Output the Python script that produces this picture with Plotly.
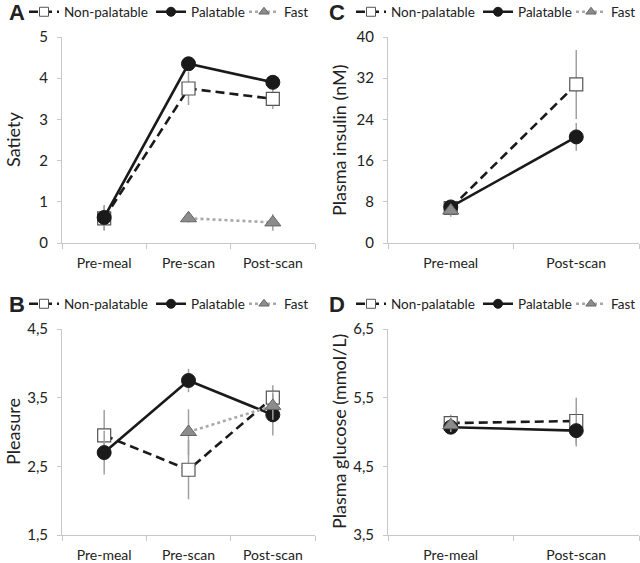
import plotly.graph_objects as go
from plotly.subplots import make_subplots

# ---------------- data ----------------
cats3 = ["Pre-meal", "Pre-scan", "Post-scan"]
cats2 = ["Pre-meal", "Post-scan"]

satiety_np = [0.6, 3.75, 3.5]
satiety_np_err = [0.3, 0.4, 0.25]
satiety_pal = [0.62, 4.35, 3.9]
satiety_pal_err = [0.3, 0.15, 0.15]
satiety_fast = [None, 0.6, 0.5]
satiety_fast_err = [0, 0.1, 0.2]

pleasure_np = [2.95, 2.45, 3.5]
pleasure_np_err = [0.37, 0.43, 0.18]
pleasure_pal = [2.7, 3.75, 3.25]
pleasure_pal_err = [0.32, 0.17, 0.3]
pleasure_fast = [None, 3.0, 3.38]
pleasure_fast_err = [0, 0.33, 0.2]

insulin_np = [6.8, 30.8]
insulin_np_err = [1.0, 6.7]
insulin_pal = [7.0, 20.6]
insulin_pal_err = [1.0, 2.7]
insulin_fast = [6.3, None]
insulin_fast_err = [1.2, 0]

glucose_np = [5.13, 5.16]
glucose_np_err = [0.12, 0.34]
glucose_pal = [5.07, 5.02]
glucose_pal_err = [0.1, 0.23]
glucose_fast = [5.1, None]
glucose_fast_err = [0.1, 0]

series_names = ["Non-palatable", "Palatable", "Fast"]

# ---------------- styles ----------------
FONT = "Lato"
ERR_COLOR = "#a0a0a0"
AXIS_COLOR = "#c8c8c8"
styles = {
    "Non-palatable": dict(
        line=dict(color="#1a1a1a", width=2.6, dash="9px,5px"),
        marker=dict(symbol="square", size=13, color="white",
                    line=dict(color="#555555", width=1.2)),
        lmarker=dict(symbol="square", size=9, color="white",
                     line=dict(color="#555555", width=1)),
        lwidth=82,
    ),
    "Palatable": dict(
        line=dict(color="#1a1a1a", width=2.6),
        marker=dict(symbol="circle", size=14, color="#1a1a1a",
                    line=dict(color="#1a1a1a", width=1)),
        lmarker=dict(symbol="circle", size=9, color="#1a1a1a",
                     line=dict(color="#1a1a1a", width=1)),
        lwidth=48,
    ),
    "Fast": dict(
        line=dict(color="#a8a8a8", width=2.6, dash="dot"),
        marker=dict(symbol="triangle-up", size=14, color="#8c8c8c",
                    line=dict(color="#666666", width=1)),
        lmarker=dict(symbol="triangle-up", size=9, color="#8c8c8c",
                     line=dict(color="#666666", width=1)),
        lwidth=25,
    ),
}

fig = make_subplots(rows=2, cols=2)

panels = [
    (1, 1, cats3, [satiety_np, satiety_pal, satiety_fast],
     [satiety_np_err, satiety_pal_err, satiety_fast_err], "legend", "A",
     "Satiety", [0, 5], 1, "d"),
    (1, 2, cats2, [insulin_np, insulin_pal, insulin_fast],
     [insulin_np_err, insulin_pal_err, insulin_fast_err], "legend2", "C",
     "Plasma insulin (nM)", [0, 40], 8, "d"),
    (2, 1, cats3, [pleasure_np, pleasure_pal, pleasure_fast],
     [pleasure_np_err, pleasure_pal_err, pleasure_fast_err], "legend3", "B",
     "Pleasure", [1.5, 4.5], 1, ".1f"),
    (2, 2, cats2, [glucose_np, glucose_pal, glucose_fast],
     [glucose_np_err, glucose_pal_err, glucose_fast_err], "legend4", "D",
     "Plasma glucose (mmol/L)", [3.5, 6.5], 1, ".1f"),
]

W, H = 640, 563
left_x = [62 / W, 315 / W]
right_x = [388 / W, 639 / W]
top_y = [1 - 243 / H, 1 - 37 / H]
bot_y = [1 - 535 / H, 1 - 329 / H]

for (row, col, cats, vals, errs, leg, letter, ytitle, yr, dt, tf) in panels:
    for name, v, e in zip(series_names, vals, errs):
        st = styles[name]
        fig.add_trace(go.Scatter(
            x=cats, y=v, mode="lines+markers", name=name,
            line=st["line"], marker=st["marker"],
            error_y=dict(type="data", array=e, color=ERR_COLOR,
                         thickness=1.5, width=0),
            showlegend=False, connectgaps=False,
        ), row=row, col=col)
    for name in series_names:
        st = styles[name]
        fig.add_trace(go.Scatter(
            x=[None], y=[None], mode="lines+markers", name=name,
            line=st["line"], marker=st["lmarker"], legend=leg,
            legendwidth=st["lwidth"], showlegend=True,
        ), row=row, col=col)

    xd = left_x if col == 1 else right_x
    yd = top_y if row == 1 else bot_y
    fig.update_xaxes(
        domain=xd, type="category", categoryorder="array", categoryarray=cats,
        range=[-0.5, len(cats) - 0.5], tickson="boundaries",
        ticks="outside", ticklen=5, tickcolor=AXIS_COLOR,
        showline=True, linecolor=AXIS_COLOR, linewidth=1,
        showgrid=False, zeroline=False, automargin=False,
        ticklabelstandoff=7,
        tickfont=dict(family=FONT, size=14, color="#222"),
        row=row, col=col)
    fig.update_yaxes(
        domain=yd, range=yr, dtick=dt, tick0=yr[0], tickformat=tf,
        ticks="outside", ticklen=4, tickcolor=AXIS_COLOR,
        showline=True, linecolor=AXIS_COLOR, linewidth=1,
        showgrid=False, zeroline=False, automargin=False,
        ticklabelstandoff=6,
        tickfont=dict(family=FONT, size=15, color="#222"),
        row=row, col=col)

    ax_x = (13 if col == 1 else 339) / W
    fig.add_annotation(
        x=ax_x, y=(yd[0] + yd[1]) / 2, xref="paper", yref="paper",
        text=ytitle, textangle=-90, showarrow=False,
        font=dict(family=FONT, size=18, color="#222"),
        xanchor="center", yanchor="middle")
    lx = (17 if col == 1 else 337) / W
    ly = 1 - ((12 if row == 1 else 304) / H)
    fig.add_annotation(
        x=lx, y=ly, xref="paper", yref="paper", text="<b>%s</b>" % letter,
        showarrow=False, font=dict(family="Liberation Sans", size=22, color="#222"),
        xanchor="center", yanchor="middle")

legend_common = dict(
    orientation="h", font=dict(family=FONT, size=13.5, color="#222"),
    bgcolor="rgba(0,0,0,0)", itemwidth=30, tracegroupgap=0,
    xanchor="left", yanchor="middle", itemclick=False,
)
fig.update_layout(
    width=W, height=H,
    margin=dict(l=0, r=0, t=0, b=0, autoexpand=False),
    paper_bgcolor="white", plot_bgcolor="white",
    separators=", ",
    legend=dict(x=24 / W, y=1 - 12 / H, **legend_common),
    legend2=dict(x=351 / W, y=1 - 12 / H, **legend_common),
    legend3=dict(x=24 / W, y=1 - 304 / H, **legend_common),
    legend4=dict(x=351 / W, y=1 - 304 / H, **legend_common),
)

fig.write_html("out.html",
               config={"displayModeBar": False},
               post_script="document.body.style.margin='0';document.body.style.padding='0';")
